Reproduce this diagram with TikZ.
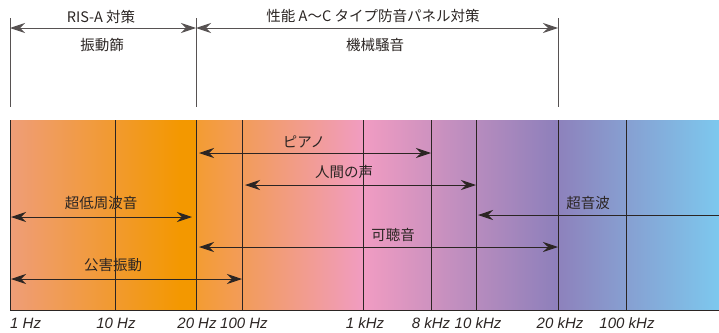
\documentclass[tikz,border=0pt]{standalone}
\usepackage{fontspec}
\setmainfont{Liberation Sans}
\newfontfamily\jp{Noto Sans CJK JP}
\usetikzlibrary{arrows.meta}
\definecolor{salmon}{HTML}{EF9D78}
\definecolor{orng}{HTML}{F39800}
\definecolor{orngB}{HTML}{F39C32}
\definecolor{pnk}{HTML}{F19CC2}
\definecolor{purp}{HTML}{8E80BB}
\definecolor{skyb}{HTML}{7DC8EE}
\definecolor{ink}{HTML}{2B2523}
\definecolor{greyline}{HTML}{575252}
\tikzset{
	tipS/.tip={Stealth[length=15pt,width=10pt,inset=5pt]},
	dimline/.style={ink,line width=0.9pt},
	toparr/.style={greyline,line width=1pt},
	lab/.style={font=\jp\fontsize{14.5}{15}\selectfont,text=ink,inner sep=0pt},
	freq/.style={font=\itshape\fontsize{15}{16}\selectfont,text=ink,inner sep=0pt},
}
\begin{document}
\begin{tikzpicture}[x=1pt,y=-1pt]
	\useasboundingbox (0,0) rectangle (719,332);
	% colour band
	\shade[left color=salmon,right color=orng] (10,120) rectangle (181,310);
	\fill[orng] (180,120) rectangle (197,310);
	\shade[left color=orngB,right color=pnk] (196,120) rectangle (364,310);
	\shade[left color=pnk,right color=purp] (363,120) rectangle (556,310);
	\shade[left color=purp,right color=skyb] (555,120) rectangle (719,310);
	\draw[ink,line width=0.9pt] (10,120) -- (10,310) -- (719,310);
	\foreach \x in {115,196,242,363,431,476,558,626}
		\draw[ink,line width=0.9pt] (\x,120) -- (\x,310);
	% frequency scale
	\node[freq,anchor=west] (f1) at (10,323.5) {1 Hz};
	\foreach \x/\t [count=\i from 2] in {116/10 Hz,197/20 Hz,244/100 Hz,365/1 kHz,431/8 kHz,478/10 kHz,560/20 kHz,627/100 kHz}
		\node[freq] (f\i) at (\x,323.5) {\t};
	% upper ranges
	\coordinate (ta) at (10,18);
	\coordinate (tb) at (196,18);
	\coordinate (tc) at (558,18);
	\draw[toparr] (ta) -- ++(0,89);
	\draw[toparr] (tb) -- ++(0,89);
	\draw[toparr] (tc) -- ++(0,89);
	\draw[toparr,tipS-tipS] ([yshift=-10pt]ta) -- ([yshift=-10pt]tb);
	\draw[toparr,tipS-tipS] ([yshift=-10pt]tb) -- ([yshift=-10pt]tc);
	\node[lab] (ris) at (101,17) {RIS-A 対策};
	\node[lab] (furui) at (102,45) {振動篩};
	\node[lab] (panel) at (373,16) {性能 A〜C タイプ防音パネル対策};
	\node[lab] (kikai) at (375,45) {機械騒音};
	% ranges in the band
	\coordinate (pianoL) at (199,153);
	\coordinate (pianoR) at (431,153);
	\coordinate (voiceL) at (245,185);
	\coordinate (voiceR) at (476,185);
	\coordinate (infraL) at (11,217);
	\coordinate (infraR) at (192,217);
	\coordinate (ultraL) at (478,215);
	\coordinate (ultraR) at (719,215);
	\coordinate (audL) at (199,247);
	\coordinate (audR) at (558,247);
	\coordinate (vibL) at (11,279);
	\coordinate (vibR) at (242,279);
	\draw[dimline,tipS-tipS] (pianoL) -- (pianoR);
	\draw[dimline,tipS-tipS] (voiceL) -- (voiceR);
	\draw[dimline,tipS-tipS] (infraL) -- (infraR);
	\draw[dimline,tipS-] (ultraL) -- (ultraR);
	\draw[dimline,tipS-tipS] (audL) -- (audR);
	\draw[dimline,tipS-tipS] (vibL) -- (vibR);
	\node[lab] (piano) at (304,142) {ピアノ};
	\node[lab] (voice) at (344,172) {人間の声};
	\node[lab] (infra) at (101,203) {超低周波音};
	\node[lab] (ultra) at (588,203) {超音波};
	\node[lab] (aud) at (393,235) {可聴音};
	\node[lab] (vib) at (113,265) {公害振動};
\end{tikzpicture}
\end{document}
